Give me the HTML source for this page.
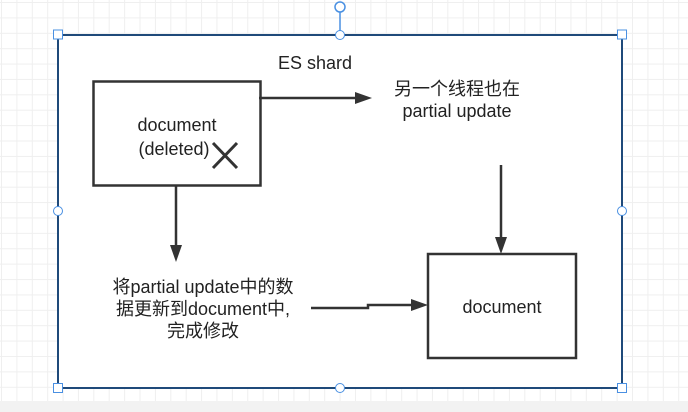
<!DOCTYPE html>
<html><head><meta charset="utf-8"><style>
body{margin:0;width:688px;height:412px;overflow:hidden;background:#fff;
background-image:linear-gradient(#efefef 1px,transparent 1px),linear-gradient(90deg,#efefef 1px,transparent 1px);
background-size:15.4px 15.4px;background-position:1px 2px;font-family:"Liberation Sans","Noto Sans CJK SC",sans-serif;}
</style></head><body>
<svg width="688" height="412" style="position:absolute;left:0;top:0">
<rect x="0" y="401" width="688" height="11" fill="#f2f2f2"/>
<rect x="58" y="35" width="564" height="353" fill="#fff" stroke="#1f4a7a" stroke-width="2"/>
<line x1="340" y1="8" x2="340" y2="35" stroke="#4a90e2" stroke-width="1.5"/>
<circle cx="340" cy="7" r="5" fill="#fff" stroke="#4a90e2" stroke-width="1.5"/>
<g fill="#fff" stroke="#4a90e2" stroke-width="1">
<rect x="53.5" y="30" width="9" height="9"/><rect x="617.5" y="30" width="9" height="9"/>
<rect x="53.5" y="383.5" width="9" height="9"/><rect x="617.5" y="383.5" width="9" height="9"/>
<circle cx="340" cy="35" r="4.5"/><circle cx="340" cy="388" r="4.5"/>
<circle cx="58" cy="211" r="4.5"/><circle cx="622" cy="211" r="4.5"/>
</g>
<g stroke="#333" stroke-width="2.5" fill="none">
<rect x="93.5" y="81.5" width="167" height="104"/>
<rect x="428" y="254" width="148" height="104"/>
<line x1="259" y1="98" x2="356" y2="98"/>
<line x1="501" y1="165" x2="501" y2="238"/>
<line x1="176" y1="186" x2="176" y2="246"/>
<polyline points="311,308 368,308 368,305 412,305"/>
<path d="M213,143 L237,168 M237,143 L213,168" stroke-width="3"/>
</g>
<g fill="#333">
<polygon points="372,98 355,92 355,104"/>
<polygon points="501,254 495,237 507,237"/>
<polygon points="176,262 170,245 182,245"/>
<polygon points="428,305 411,299 411,311"/>
</g>
<g font-size="18" fill="#222" text-anchor="middle">
<text x="315" y="69">ES shard</text>
<text x="177" y="131">document</text>
<text x="174" y="155">(deleted)</text>
<text x="457" y="117">partial update</text>
<text x="457" y="95">另一个线程也在</text>
<text x="502" y="313">document</text>
<text x="203" y="293">将partial update中的数</text>
<text x="203" y="315">据更新到document中,</text>
<text x="203" y="337">完成修改</text>
</g>
</svg>
</body></html>
